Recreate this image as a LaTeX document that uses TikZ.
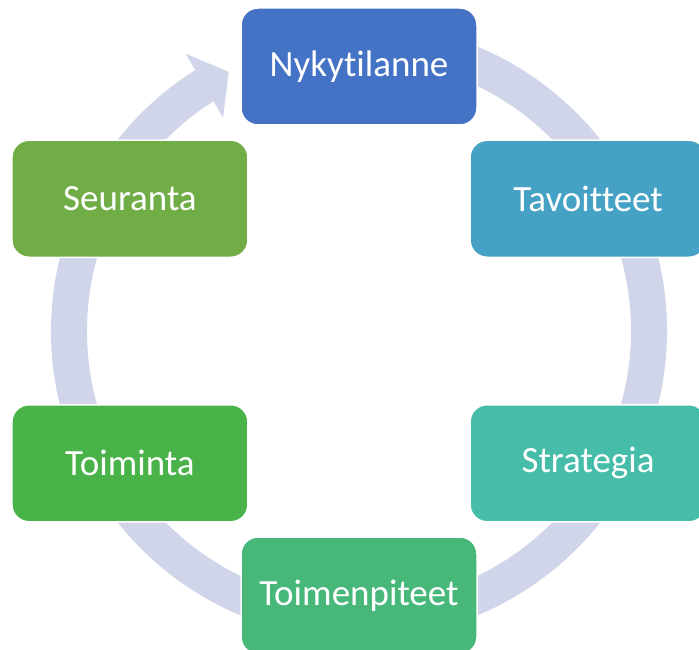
\documentclass[tikz,border=0pt]{standalone}
\usepackage{fontspec}
\setmainfont{Carlito}[Ligatures={NoCommon,NoContextual}]
\usetikzlibrary{positioning}
\definecolor{ringfill}{HTML}{D0D5EA}
\definecolor{nowfill}{HTML}{4472C4}
\definecolor{goalfill}{HTML}{45A2C5}
\definecolor{stratfill}{HTML}{45BDA8}
\definecolor{actsfill}{HTML}{47B879}
\definecolor{workfill}{HTML}{49B34A}
\definecolor{followfill}{HTML}{70AD47}
\tikzset{
  stage/.style = {rectangle, rounded corners=17pt, draw=white, line width=1.5pt,
                  minimum width=236pt, minimum height=117pt, inner sep=0pt,
                  text=white, font=\fontsize{37}{40}\selectfont},
  ring/.style  = {draw=ringfill, line width=36pt},
  ringtip/.style={fill=ringfill, draw=none},
}
\begin{document}
\begin{tikzpicture}[x=1pt, y=1pt]
  \useasboundingbox (0,0) rectangle (699,-650);
  \clip (0,0) rectangle (699,-650);

  \coordinate (c) at (359,-331);

  % ring behind the boxes
  \draw[ring] ([shift={(85:290pt)}]c) arc[start angle=85, end angle=-238, radius=290pt];
  \fill[ringtip] ([shift={(122:327pt)}]c) -- ([shift={(116.7:290pt)}]c)
                 -- ([shift={(122.5:253pt)}]c) -- cycle;

  \node[stage, fill=nowfill]    (now)    at ([shift={(90:264.5pt)}]c)   {Nykytilanne};
  \node[stage, fill=goalfill]   (goals)  at ([shift={(30:264.5pt)}]c)   {Tavoitteet};
  \node[stage, fill=stratfill]  (strat)  at ([shift={(-30:264.5pt)}]c)  {Strategia};
  \node[stage, fill=actsfill]   (acts)   at ([shift={(-90:264.5pt)}]c)  {Toimenpiteet};
  \node[stage, fill=workfill]   (work)   at ([shift={(-150:264.5pt)}]c) {Toiminta};
  \node[stage, fill=followfill] (follow) at ([shift={(150:264.5pt)}]c)  {Seuranta};
\end{tikzpicture}
\end{document}
